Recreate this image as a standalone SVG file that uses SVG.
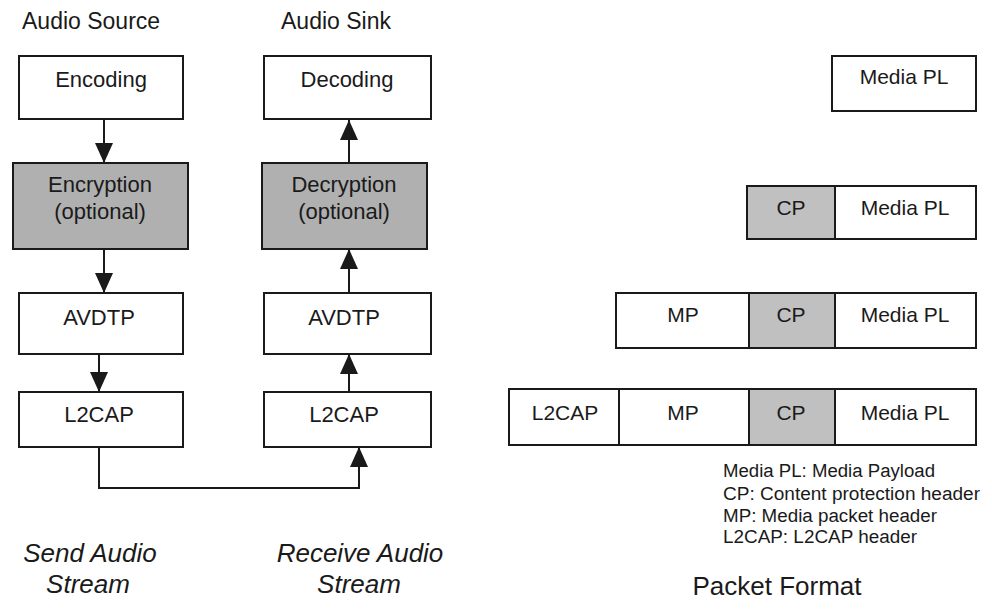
<svg xmlns="http://www.w3.org/2000/svg" width="992" height="611" viewBox="0 0 992 611">
<style>
  .box { fill: #ffffff; stroke: #1a1a1a; stroke-width: 2; }
  .dark { fill: #b0b0b0; stroke: #1a1a1a; stroke-width: 2; }
  .light { fill: #c0c0c0; stroke: #1a1a1a; stroke-width: 2; }
  .lbl { font-family: "Liberation Sans", Arial, sans-serif; font-size: 22px; fill: #1a1a1a; text-anchor: middle; }
  .pk { font-family: "Liberation Sans", Arial, sans-serif; font-size: 21px; fill: #1a1a1a; text-anchor: middle; }
  .title { font-family: "Liberation Sans", Arial, sans-serif; font-size: 23px; fill: #1a1a1a; }
  .it { font-family: "Liberation Sans", Arial, sans-serif; font-size: 26px; font-style: italic; fill: #1a1a1a; text-anchor: middle; }
  .leg { font-family: "Liberation Sans", Arial, sans-serif; font-size: 18px; fill: #1a1a1a; }
  .conn { fill: none; stroke: #1a1a1a; stroke-width: 2; }
</style>
<defs>
  <marker id="ah" markerUnits="userSpaceOnUse" markerWidth="20" markerHeight="20" viewBox="0 0 20 18" refX="20" refY="9" orient="auto">
    <path d="M0,0 L20,9 L0,18 Z" fill="#1a1a1a"/>
  </marker>
</defs>
<rect width="992" height="611" fill="#ffffff"/>

<text class="title" x="22" y="29">Audio Source</text>
<text class="title" x="281" y="29">Audio Sink</text>

<g id="encoding"><rect class="box" x="19" y="56" width="164" height="63"/><text class="lbl" x="101" y="87">Encoding</text></g>
<g id="encryption"><rect class="dark" x="13" y="163" width="175" height="86"/><text class="lbl" x="100" y="192">Encryption</text><text class="lbl" x="100" y="219">(optional)</text></g>
<g id="avdtp-src"><rect class="box" x="19" y="293" width="164" height="61"/><text class="lbl" x="99" y="325">AVDTP</text></g>
<g id="l2cap-src"><rect class="box" x="19" y="392" width="164" height="55"/><text class="lbl" x="99" y="422">L2CAP</text></g>

<g id="decoding"><rect class="box" x="264" y="56" width="167" height="63"/><text class="lbl" x="347" y="87">Decoding</text></g>
<g id="decryption"><rect class="dark" x="262" y="163" width="165" height="86"/><text class="lbl" x="344" y="192">Decryption</text><text class="lbl" x="344" y="219">(optional)</text></g>
<g id="avdtp-snk"><rect class="box" x="264" y="293" width="167" height="61"/><text class="lbl" x="344" y="325">AVDTP</text></g>
<g id="l2cap-snk"><rect class="box" x="264" y="392" width="167" height="55"/><text class="lbl" x="344" y="422">L2CAP</text></g>

<g id="connectors">
  <line class="conn" x1="104" y1="120" x2="104" y2="163" marker-end="url(#ah)"/>
  <line class="conn" x1="104" y1="250" x2="104" y2="293" marker-end="url(#ah)"/>
  <line class="conn" x1="99" y1="355" x2="99" y2="392" marker-end="url(#ah)"/>
  <line class="conn" x1="349" y1="162" x2="349" y2="120" marker-end="url(#ah)"/>
  <line class="conn" x1="349" y1="292" x2="349" y2="249" marker-end="url(#ah)"/>
  <line class="conn" x1="349" y1="391" x2="349" y2="354" marker-end="url(#ah)"/>
  <path class="conn" d="M99,447 L99,488 L359,488 L359,447" marker-end="url(#ah)"/>
</g>

<text class="it" x="90" y="562">Send Audio</text>
<text class="it" x="88" y="593">Stream</text>
<text class="it" x="360" y="562">Receive Audio</text>
<text class="it" x="359" y="593">Stream</text>

<g id="packet1">
  <rect class="box" x="832" y="56" width="144" height="55"/><text class="pk" x="904" y="84">Media PL</text>
</g>
<g id="packet2">
  <rect class="light" x="747" y="186" width="88" height="53"/><text class="pk" x="791" y="215">CP</text>
  <rect class="box" x="835" y="186" width="141" height="53"/><text class="pk" x="905" y="215">Media PL</text>
</g>
<g id="packet3">
  <rect class="box" x="616" y="293" width="133" height="55"/><text class="pk" x="683" y="322">MP</text>
  <rect class="light" x="749" y="293" width="86" height="55"/><text class="pk" x="791" y="322">CP</text>
  <rect class="box" x="835" y="293" width="141" height="55"/><text class="pk" x="905" y="322">Media PL</text>
</g>
<g id="packet4">
  <rect class="box" x="509" y="389" width="110" height="56"/><text class="pk" x="565" y="420">L2CAP</text>
  <rect class="box" x="619" y="389" width="130" height="56"/><text class="pk" x="683" y="420">MP</text>
  <rect class="light" x="749" y="389" width="86" height="56"/><text class="pk" x="791" y="420">CP</text>
  <rect class="box" x="835" y="389" width="141" height="56"/><text class="pk" x="905" y="420">Media PL</text>
</g>

<g id="legend">
  <text class="leg" x="723" y="477" textLength="212" lengthAdjust="spacingAndGlyphs">Media PL: Media Payload</text>
  <text class="leg" x="723" y="500" textLength="257" lengthAdjust="spacingAndGlyphs">CP: Content protection header</text>
  <text class="leg" x="723" y="522" textLength="214" lengthAdjust="spacingAndGlyphs">MP: Media packet header</text>
  <text class="leg" x="723" y="543" textLength="194" lengthAdjust="spacingAndGlyphs">L2CAP: L2CAP header</text>
</g>

<text class="title" x="777" y="595" text-anchor="middle" style="font-size:26px">Packet Format</text>
</svg>
